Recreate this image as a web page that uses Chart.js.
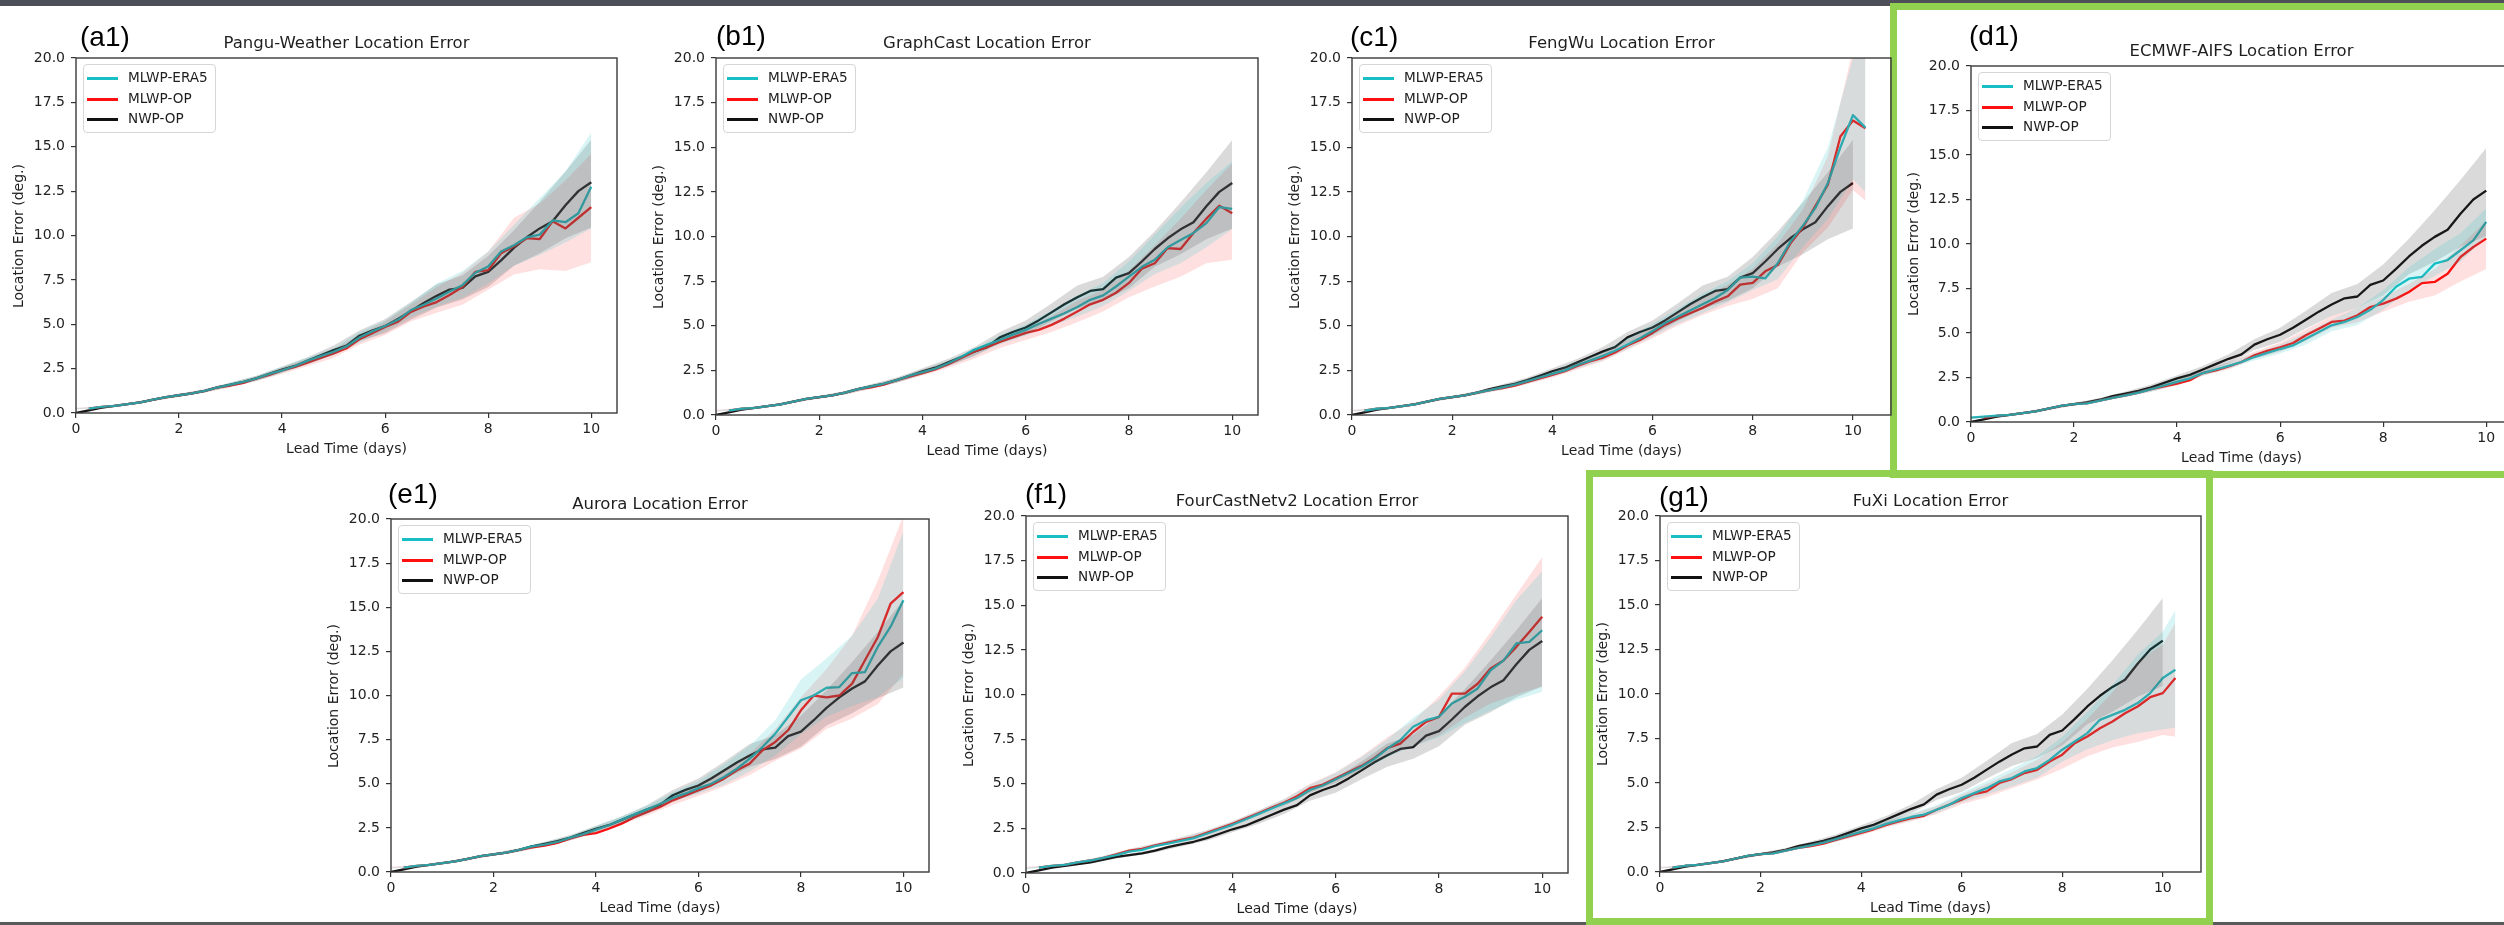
<!DOCTYPE html>
<html lang="en">
<head>
<meta charset="UTF-8">
<title>Location Error</title>
<script src="https://cdn.jsdelivr.net/npm/chart.js"></script>
<style>
  body { margin:0; width:2504px; height:925px; overflow:hidden; background:#fff; position:relative; font-family:"DejaVu Sans", sans-serif; }
  .topbar { position:absolute; left:0; top:0; width:2504px; height:6px; background:#4d5058; }
  .botline { position:absolute; left:0; top:922px; width:2504px; height:3px; background:#5a5a5a; }
  .gbox { position:absolute; border:7px solid #92d050; box-sizing:border-box; }
  .tag { position:absolute; font-family:"Liberation Sans", Arial, sans-serif; font-size:28px; line-height:28px; color:#000; white-space:nowrap; }
  .ttl { position:absolute; font-size:16.5px; line-height:16px; color:#1e1e1e; white-space:nowrap; transform:translateX(-50%); }
  .xl { position:absolute; font-size:14px; line-height:14px; color:#1e1e1e; white-space:nowrap; transform:translateX(-50%); }
  .yl { position:absolute; font-size:14px; line-height:14px; color:#1e1e1e; white-space:nowrap; transform:translate(-50%,-50%) rotate(-90deg); }
  .legend { position:absolute; width:133px; height:69px; border:1px solid #d6d6d6; border-radius:4px; background:rgba(255,255,255,0.85); box-sizing:border-box; }
  .legend .h { position:absolute; left:3px; width:31px; height:2.5px; }
  .legend .t { position:absolute; left:44px; font-size:13.6px; line-height:14px; color:#1e1e1e; white-space:nowrap; }
  canvas { position:absolute; }
</style>
</head>
<body>
<div class="topbar"></div>
<div class="botline"></div>
<div class="gbox" style="left:1890px; top:3px; width:640px; height:475px;"></div>
<div class="gbox" style="left:1586px; top:470px; width:627px; height:455px;"></div>

<script>
// lead time grids (days)
const DAYS = [0,0.25,0.5,0.75,1,1.25,1.5,1.75,2,2.25,2.5,2.75,3,3.25,3.5,3.75,4,4.25,4.5,4.75,5,5.25,5.5,5.75,6,6.25,6.5,6.75,7,7.25,7.5,7.75,8,8.25,8.5,8.75,9,9.25,9.5,9.75,10];
const DAYS_EXT = DAYS.concat([10.25]);
const BAND_DAYS = [0,0.5,1,1.5,2,2.5,3,3.5,4,4.5,5,5.5,6,6.5,7,7.5,8,8.5,9,9.5,10];
const BAND_DAYS_EXT = BAND_DAYS.concat([10.25]);
const X_TICKS = [0,2,4,6,8,10];
const Y_TICKS = [0,2.5,5,7.5,10,12.5,15,17.5,20];
const SERIES_NAMES = ['MLWP-ERA5','MLWP-OP','NWP-OP'];

// NWP-OP (same in every panel)
const NWP_OP = [0,0.15,0.3,0.4,0.5,0.6,0.75,0.9,1.0,1.1,1.25,1.45,1.6,1.75,1.95,2.2,2.45,2.65,2.95,3.25,3.55,3.8,4.35,4.65,4.9,5.3,5.75,6.2,6.6,6.95,7.05,7.7,7.95,8.6,9.3,9.9,10.4,10.8,11.7,12.5,13.0];
const NWP_HI = [0.05,0.35,0.55,0.82,1.08,1.35,1.72,2.1,2.62,3.15,3.8,4.65,5.3,6.25,7.25,7.75,8.85,10.3,11.9,13.6,15.4];
const NWP_LO = [0,0.25,0.45,0.68,0.92,1.15,1.48,1.8,2.28,2.75,3.3,4.05,4.5,5.25,5.95,6.4,7.1,8.3,9.0,9.85,10.45];

// (a1) Pangu-Weather
const PANGU_ERA5 = [null,0.25,0.35,0.4,0.5,0.6,0.75,0.9,1.0,1.1,1.25,1.45,1.6,1.75,1.95,2.2,2.4,2.65,2.95,3.2,3.45,3.75,4.25,4.6,4.9,5.25,5.8,6.1,6.45,6.85,7.2,7.9,8.25,9.1,9.45,9.9,10.05,10.85,10.75,11.25,12.75];
const PANGU_OP = [null,0.25,0.35,0.4,0.5,0.6,0.75,0.9,1.0,1.1,1.25,1.45,1.55,1.7,1.95,2.15,2.4,2.6,2.85,3.1,3.35,3.65,4.15,4.5,4.85,5.15,5.7,6.0,6.25,6.65,7.1,7.95,8.05,9.0,9.4,9.85,9.8,10.8,10.4,11.0,11.6];
const PANGU_ERA5_HI = [0.25,0.4,0.55,0.8,1.05,1.32,1.7,2.08,2.6,3.12,3.65,4.55,5.2,6.2,7.3,8.0,9.1,10.6,12.1,13.6,15.8];
const PANGU_ERA5_LO = [0.2,0.3,0.45,0.7,0.95,1.18,1.5,1.82,2.25,2.78,3.25,3.95,4.6,5.4,6.0,6.5,7.3,8.3,8.9,9.6,10.4];
const PANGU_OP_HI = [0.3,0.4,0.55,0.8,1.05,1.32,1.68,2.05,2.55,3.05,3.55,4.4,5.15,6.1,7.1,7.9,9.1,11.0,11.8,13.1,14.6];
const PANGU_OP_LO = [0.2,0.3,0.45,0.68,0.92,1.15,1.45,1.8,2.2,2.65,3.1,3.85,4.4,5.15,5.65,6.1,6.95,7.8,8.1,8.0,8.5];

// (b1) GraphCast
const GC_ERA5 = [null,0.25,0.35,0.4,0.5,0.6,0.75,0.9,1.0,1.1,1.25,1.45,1.6,1.75,1.95,2.2,2.4,2.6,2.9,3.25,3.65,3.93,4.2,4.5,4.77,5.1,5.4,5.7,6.05,6.45,6.7,7.2,7.75,8.3,8.7,9.4,9.8,10.2,10.75,11.65,11.55];
const GC_OP = [null,0.25,0.35,0.4,0.5,0.6,0.75,0.9,1.0,1.1,1.25,1.45,1.55,1.7,1.95,2.15,2.35,2.55,2.85,3.2,3.55,3.8,4.1,4.35,4.6,4.77,5.05,5.4,5.8,6.2,6.45,6.85,7.4,8.2,8.5,9.35,9.3,10.2,11.0,11.72,11.3];
const GC_ERA5_HI = [0.25,0.4,0.55,0.8,1.05,1.32,1.68,2.05,2.55,3.05,3.65,4.45,5.05,5.85,6.7,7.4,8.6,10.1,11.6,13.0,14.2];
const GC_ERA5_LO = [0.2,0.3,0.45,0.7,0.95,1.18,1.5,1.82,2.25,2.75,3.3,3.95,4.45,5.0,5.5,6.1,6.95,7.9,8.5,9.4,10.4];
const GC_OP_HI = [0.3,0.4,0.55,0.8,1.05,1.32,1.68,2.05,2.55,3.0,3.55,4.3,4.85,5.55,6.4,7.0,8.1,9.5,11.0,12.6,14.1];
const GC_OP_LO = [0.2,0.3,0.45,0.68,0.92,1.15,1.45,1.8,2.2,2.65,3.15,3.75,4.2,4.65,5.2,5.8,6.6,7.2,7.75,8.5,8.7];

// (c1) FengWu, runs to 10.25 days
const FW_ERA5 = [null,0.25,0.35,0.4,0.5,0.6,0.75,0.9,1.0,1.1,1.25,1.4,1.55,1.7,1.9,2.1,2.3,2.5,2.8,3.05,3.3,3.6,3.95,4.3,4.7,5.15,5.5,5.85,6.2,6.55,7.0,7.7,7.75,7.65,8.5,9.7,10.6,11.6,13.0,15.0,16.8,16.1];
const FW_OP = [null,0.25,0.35,0.4,0.5,0.6,0.75,0.9,1.0,1.1,1.25,1.4,1.5,1.65,1.85,2.05,2.25,2.45,2.75,3.0,3.2,3.5,3.9,4.2,4.6,5.05,5.4,5.7,6.0,6.35,6.65,7.3,7.4,8.05,8.4,9.6,10.5,11.7,12.9,15.6,16.5,16.07];
const FW_ERA5_HI = [0.25,0.4,0.55,0.8,1.05,1.32,1.65,2.02,2.45,3.0,3.5,4.3,5.1,5.95,6.8,7.5,8.5,10.0,12.0,15.0,20.0,20.0];
const FW_ERA5_LO = [0.2,0.3,0.45,0.7,0.95,1.18,1.42,1.75,2.15,2.6,3.05,3.7,4.4,5.1,5.7,6.3,7.0,7.6,9.4,11.0,13.2,12.5];
const FW_OP_HI = [0.3,0.4,0.55,0.8,1.05,1.32,1.62,2.0,2.4,2.95,3.45,4.2,4.95,5.8,6.6,7.3,8.2,9.6,11.5,14.5,20.5,20.5];
const FW_OP_LO = [0.2,0.3,0.45,0.68,0.92,1.15,1.4,1.72,2.1,2.55,3.0,3.65,4.3,5.0,5.6,6.1,6.5,7.1,9.1,10.5,12.6,12.0];

// (d1) ECMWF-AIFS
const AIFS_ERA5 = [0.25,0.3,0.35,0.4,0.5,0.6,0.75,0.9,1.0,1.05,1.2,1.35,1.5,1.65,1.85,2.05,2.25,2.45,2.75,2.95,3.15,3.37,3.65,3.88,4.1,4.3,4.68,5.06,5.43,5.62,5.9,6.3,6.85,7.6,8.05,8.15,8.9,9.1,9.65,10.2,11.24];
const AIFS_OP = [null,0.25,0.35,0.4,0.5,0.6,0.75,0.9,1.0,1.05,1.2,1.35,1.5,1.65,1.85,2.0,2.15,2.35,2.75,2.9,3.13,3.37,3.75,4.0,4.2,4.44,4.87,5.24,5.62,5.7,6.0,6.46,6.65,6.93,7.3,7.8,7.87,8.33,9.27,9.83,10.3];
const AIFS_ERA5_HI = [0.3,0.4,0.55,0.8,1.05,1.3,1.6,1.95,2.4,2.9,3.35,3.85,4.35,5.0,5.75,6.4,7.4,8.7,9.7,10.6,12.0];
const AIFS_ERA5_LO = [0.2,0.3,0.45,0.7,0.93,1.15,1.4,1.7,2.1,2.6,3.0,3.45,3.85,4.35,5.1,5.45,6.3,7.4,8.2,9.0,10.4];
const AIFS_OP_HI = [0.3,0.4,0.55,0.8,1.05,1.3,1.6,1.95,2.35,2.9,3.35,3.95,4.45,5.2,5.95,6.4,7.05,7.75,8.6,9.9,11.3];
const AIFS_OP_LO = [0.2,0.3,0.45,0.68,0.92,1.15,1.4,1.7,2.05,2.6,2.95,3.55,3.95,4.55,5.3,5.6,6.2,6.75,7.1,7.9,8.6];

// (e1) Aurora
const AUR_ERA5 = [null,0.25,0.35,0.4,0.5,0.6,0.75,0.9,1.0,1.1,1.25,1.45,1.55,1.7,1.95,2.15,2.4,2.65,2.95,3.25,3.55,3.85,4.2,4.45,4.75,5.0,5.38,5.85,6.42,7.08,7.84,8.78,9.73,10.0,10.44,10.48,11.27,11.33,12.75,13.9,15.4];
const AUR_OP = [null,0.25,0.35,0.4,0.5,0.6,0.75,0.9,1.0,1.1,1.25,1.4,1.5,1.65,1.9,2.1,2.2,2.45,2.74,3.1,3.4,3.68,4.06,4.34,4.63,4.91,5.29,5.76,6.14,6.9,7.37,8.03,9.16,10.0,9.9,10.0,10.67,12.0,13.3,15.2,15.86];
const AUR_ERA5_HI = [0.25,0.4,0.55,0.8,1.05,1.32,1.68,2.05,2.6,3.15,3.75,4.5,5.15,6.1,7.15,8.6,10.9,12.1,13.4,15.5,19.3];
const AUR_ERA5_LO = [0.2,0.3,0.45,0.7,0.95,1.18,1.5,1.82,2.25,2.78,3.3,3.95,4.45,4.95,5.7,6.6,7.8,8.8,9.4,9.9,11.0];
const AUR_OP_HI = [0.3,0.4,0.55,0.8,1.05,1.3,1.65,2.0,2.5,3.0,3.6,4.3,5.0,5.8,6.7,8.1,9.9,11.5,13.4,16.5,20.2];
const AUR_OP_LO = [0.2,0.3,0.45,0.68,0.92,1.15,1.45,1.78,2.2,2.7,3.2,3.8,4.3,4.85,5.5,6.3,7.0,8.1,8.7,9.5,11.2];

// (f1) FourCastNetv2
const FCN_ERA5 = [null,0.3,0.4,0.45,0.6,0.7,0.85,1.0,1.2,1.3,1.5,1.65,1.8,1.95,2.2,2.45,2.7,3.0,3.3,3.6,3.9,4.2,4.65,4.9,5.25,5.6,5.95,6.4,6.97,7.44,8.19,8.56,8.75,9.5,9.87,10.34,11.36,11.9,12.86,12.95,13.6];
const FCN_OP = [null,0.3,0.4,0.45,0.6,0.7,0.85,1.05,1.25,1.35,1.55,1.7,1.85,2.0,2.25,2.5,2.75,3.05,3.35,3.65,3.95,4.3,4.75,4.95,5.3,5.65,6.0,6.45,7.0,7.25,7.9,8.47,8.75,10.05,10.05,10.6,11.46,11.9,12.67,13.5,14.36];
const FCN_ERA5_HI = [0.3,0.45,0.65,0.95,1.35,1.65,2.0,2.4,2.9,3.5,4.15,4.95,5.6,6.5,7.5,8.7,9.7,11.3,13.2,15.3,16.9];
const FCN_ERA5_LO = [0.2,0.35,0.55,0.8,1.15,1.45,1.75,2.1,2.6,3.15,3.75,4.5,5.05,5.75,6.5,7.1,7.6,8.4,9.1,9.7,10.15];
const FCN_OP_HI = [0.35,0.45,0.65,0.95,1.35,1.65,2.0,2.4,2.9,3.5,4.15,5.0,5.65,6.55,7.6,8.5,9.9,11.5,13.5,15.6,17.7];
const FCN_OP_LO = [0.25,0.35,0.55,0.8,1.15,1.45,1.75,2.1,2.6,3.15,3.75,4.5,5.05,5.75,6.6,7.1,7.7,8.7,9.5,10.0,10.45];

// (g1) FuXi, runs to 10.25 days
const FUXI_ERA5 = [null,0.25,0.35,0.4,0.5,0.6,0.75,0.9,1.0,1.05,1.2,1.35,1.5,1.65,1.85,2.05,2.25,2.45,2.7,2.9,3.09,3.22,3.5,3.78,4.15,4.43,4.71,5.09,5.28,5.65,5.84,6.3,6.87,7.33,7.8,8.55,8.83,9.11,9.49,10.05,10.9,11.36];
const FUXI_OP = [null,0.25,0.35,0.4,0.5,0.6,0.75,0.9,1.0,1.05,1.2,1.35,1.45,1.6,1.8,2.0,2.2,2.4,2.65,2.85,3.03,3.16,3.5,3.78,4.06,4.38,4.53,5.0,5.22,5.56,5.74,6.21,6.59,7.24,7.61,8.08,8.46,8.92,9.3,9.82,10.05,10.9];
const FUXI_ERA5_HI = [0.25,0.4,0.55,0.8,1.05,1.3,1.6,1.95,2.4,2.9,3.3,3.75,4.45,5.1,5.8,6.5,7.6,9.0,10.5,12.2,13.5,14.7];
const FUXI_ERA5_LO = [0.2,0.3,0.45,0.7,0.93,1.15,1.4,1.7,2.1,2.55,2.9,3.3,3.9,4.35,4.8,5.3,6.2,6.9,7.4,7.8,8.0,8.1];
const FUXI_OP_HI = [0.3,0.4,0.55,0.8,1.05,1.3,1.6,1.95,2.35,2.85,3.25,3.7,4.35,4.95,5.6,6.3,7.3,8.6,10.1,11.8,12.8,14.0];
const FUXI_OP_LO = [0.2,0.3,0.45,0.68,0.92,1.15,1.4,1.7,2.05,2.5,2.85,3.25,3.8,4.2,4.7,5.2,5.8,6.5,7.0,7.3,7.7,7.6];

const CYAN = '#17bfc4', RED = '#ff1010', BLACK = '#111111';
const CYAN_FILL = 'rgba(23,191,196,0.17)', RED_FILL = 'rgba(255,0,0,0.12)', GREY_FILL = 'rgba(60,60,60,0.19)';

// plot boxes in page pixels
const PANELS = [
  {tag:'(a1)', title:'Pangu-Weather Location Error', L:76, T:58, R:617, B:413, xmax:10.5, tx:82, ty:26,
   days:DAYS, bdays:BAND_DAYS, era5:PANGU_ERA5, op:PANGU_OP, eHi:PANGU_ERA5_HI, eLo:PANGU_ERA5_LO, oHi:PANGU_OP_HI, oLo:PANGU_OP_LO},
  {tag:'(b1)', title:'GraphCast Location Error', L:716, T:58, R:1258, B:415, xmax:10.5, tx:718, ty:25,
   days:DAYS, bdays:BAND_DAYS, era5:GC_ERA5, op:GC_OP, eHi:GC_ERA5_HI, eLo:GC_ERA5_LO, oHi:GC_OP_HI, oLo:GC_OP_LO},
  {tag:'(c1)', title:'FengWu Location Error', L:1352, T:58, R:1891, B:415, xmax:10.76, tx:1352, ty:26,
   days:DAYS_EXT, bdays:BAND_DAYS_EXT, era5:FW_ERA5, op:FW_OP, eHi:FW_ERA5_HI, eLo:FW_ERA5_LO, oHi:FW_OP_HI, oLo:FW_OP_LO},
  {tag:'(d1)', title:'ECMWF-AIFS Location Error', L:1971, T:66, R:2512, B:422, xmax:10.5, tx:1971, ty:25,
   days:DAYS, bdays:BAND_DAYS, era5:AIFS_ERA5, op:AIFS_OP, eHi:AIFS_ERA5_HI, eLo:AIFS_ERA5_LO, oHi:AIFS_OP_HI, oLo:AIFS_OP_LO},
  {tag:'(e1)', title:'Aurora Location Error', L:391, T:519, R:929, B:872, xmax:10.5, tx:390, ty:483,
   days:DAYS, bdays:BAND_DAYS, era5:AUR_ERA5, op:AUR_OP, eHi:AUR_ERA5_HI, eLo:AUR_ERA5_LO, oHi:AUR_OP_HI, oLo:AUR_OP_LO},
  {tag:'(f1)', title:'FourCastNetv2 Location Error', L:1026, T:516, R:1568, B:873, xmax:10.5, tx:1027, ty:483,
   days:DAYS, bdays:BAND_DAYS, era5:FCN_ERA5, op:FCN_OP, eHi:FCN_ERA5_HI, eLo:FCN_ERA5_LO, oHi:FCN_OP_HI, oLo:FCN_OP_LO},
  {tag:'(g1)', title:'FuXi Location Error', L:1660, T:516, R:2201, B:872, xmax:10.76, tx:1661, ty:486,
   days:DAYS_EXT, bdays:BAND_DAYS_EXT, era5:FUXI_ERA5, op:FUXI_OP, eHi:FUXI_ERA5_HI, eLo:FUXI_ERA5_LO, oHi:FUXI_OP_HI, oLo:FUXI_OP_LO}
];

Chart.defaults.font.family = 'DejaVu Sans';

function pts(xs, ys) {
  return xs.map((x, i) => ({x: x, y: ys[i] === undefined ? null : ys[i]}));
}

function band(xs, ys, fill, color) {
  return {data: pts(xs, ys), borderWidth: 0, pointRadius: 0, fill: fill, backgroundColor: color, borderColor: 'transparent'};
}

function line(xs, ys, color) {
  return {data: pts(xs, ys), borderColor: color, borderWidth: 2.3, pointRadius: 0, fill: false,
          borderJoinStyle: 'round', tension: 0};
}

// box around the plot like matplotlib spines
const framePlugin = {
  id: 'frame',
  afterDraw(chart) {
    const a = chart.chartArea, c = chart.ctx;
    c.save();
    c.strokeStyle = '#3a3a3a';
    c.lineWidth = 1.4;
    c.strokeRect(a.left, a.top, a.right - a.left, a.bottom - a.top);
    c.restore();
  }
};

function addDiv(cls, text, left, top) {
  const d = document.createElement('div');
  d.className = cls;
  d.textContent = text;
  d.style.left = left + 'px';
  d.style.top = top + 'px';
  document.body.appendChild(d);
  return d;
}

PANELS.forEach(p => {
  const W = p.R - p.L, H = p.B - p.T;
  const cv = document.createElement('canvas');
  cv.width = W + 90; cv.height = H + 55;
  cv.style.left = (p.L - 70) + 'px';
  cv.style.top = (p.T - 15) + 'px';
  cv.style.width = (W + 90) + 'px';
  cv.style.height = (H + 55) + 'px';
  document.body.appendChild(cv);

  const nwpDays = p.days === DAYS_EXT ? DAYS : p.days;

  new Chart(cv.getContext('2d'), {
    type: 'line',
    data: {
      datasets: [
        band(p.bdays, p.eLo, false, CYAN_FILL),
        band(p.bdays, p.eHi, '-1', CYAN_FILL),
        band(p.bdays, p.oLo, false, RED_FILL),
        band(p.bdays, p.oHi, '-1', RED_FILL),
        band(BAND_DAYS, NWP_LO, false, GREY_FILL),
        band(BAND_DAYS, NWP_HI, '-1', GREY_FILL),
        line(p.days, p.era5, CYAN),
        line(p.days, p.op, RED),
        line(nwpDays, NWP_OP, BLACK)
      ]
    },
    options: {
      responsive: false,
      animation: false,
      devicePixelRatio: 1,
      layout: {padding: {top: 15, right: 20, left: 0, bottom: 0}},
      plugins: {legend: {display: false}, tooltip: {enabled: false}},
      scales: {
        x: {
          type: 'linear', min: 0, max: p.xmax,
          afterFit(s) { s.height = 40; },
          afterBuildTicks(s) { s.ticks = X_TICKS.map(v => ({value: v})); },
          grid: {drawOnChartArea: false, drawTicks: true, tickLength: 5, color: '#333', lineWidth: 1.2},
          border: {display: false},
          ticks: {color: '#222', font: {size: 14}, padding: 3, maxRotation: 0, callback: v => String(v)}
        },
        y: {
          type: 'linear', min: 0, max: 20,
          afterFit(s) { s.width = 70; },
          afterBuildTicks(s) { s.ticks = Y_TICKS.map(v => ({value: v})); },
          grid: {drawOnChartArea: false, drawTicks: true, tickLength: 5, color: '#333', lineWidth: 1.2},
          border: {display: false},
          ticks: {color: '#222', font: {size: 14}, padding: 6, callback: v => v.toFixed(1)}
        }
      }
    },
    plugins: [framePlugin]
  });

  addDiv('tag', p.tag, p.tx - 2, p.ty - 3);
  addDiv('ttl', p.title, (p.L + p.R) / 2, p.T - 23);
  addDiv('xl', 'Lead Time (days)', (p.L + p.R) / 2, p.B + 28);
  addDiv('yl', 'Location Error (deg.)', p.L - 58, (p.T + p.B) / 2);

  const lg = addDiv('legend', '', p.L + 7, p.T + 6);
  [CYAN, RED, BLACK].forEach((c, i) => {
    const y = [13, 34, 54][i];
    const h = document.createElement('div');
    h.className = 'h';
    h.style.top = (y - 1) + 'px';
    h.style.background = c;
    lg.appendChild(h);
    const t = document.createElement('div');
    t.className = 't';
    t.textContent = SERIES_NAMES[i];
    t.style.top = (y - 8) + 'px';
    lg.appendChild(t);
  });
});
</script>
</body>
</html>
